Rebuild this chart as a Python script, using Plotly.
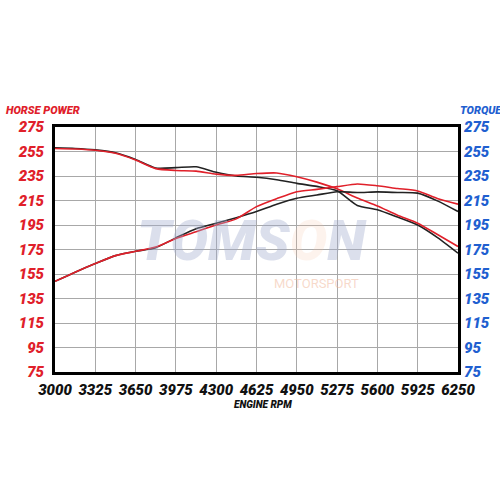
import plotly.graph_objects as go

rpm = [3000, 3162, 3325, 3488, 3650, 3812, 3975, 4138, 4300, 4462, 4625,
       4788, 4950, 5112, 5275, 5438, 5600, 5762, 5925, 6088, 6250]

torque_black = [258, 257.5, 256.3, 254, 248.5, 241.5, 241.8, 242.5, 238, 235, 234,
                232, 229, 226.5, 223, 211, 207.5, 201.5, 195, 184.5, 172]
torque_red = [257.5, 257, 256, 253.5, 248, 241, 239.5, 239, 236.5, 235.5, 237,
              237.5, 234.4, 230, 224.5, 217, 210.5, 203, 196.5, 187, 177.5]
hp_black = [149, 156.5, 163.5, 170, 173.5, 176.5, 184.5, 192, 196.5, 201, 206,
            212, 216.8, 219.5, 222.2, 221.5, 222, 221.5, 221, 214.5, 206]
hp_red = [149, 156.5, 163.5, 170, 173.5, 177, 184, 189.5, 195, 200, 210,
          216.5, 222.2, 224.1, 226.3, 228.5, 227, 224.8, 222.8, 216.5, 212]

x_ticks = [3000, 3325, 3650, 3975, 4300, 4625, 4950, 5275, 5600, 5925, 6250]
y_ticks = [75, 95, 115, 135, 155, 175, 195, 215, 235, 255, 275]

RED = "#e0202a"
BLACK = "#222222"
BLUE = "#1f5fd0"
FONT = "Roboto, Liberation Sans, sans-serif"

fig = go.Figure()
for y, c in [(torque_black, BLACK), (torque_red, RED), (hp_black, BLACK), (hp_red, RED)]:
    fig.add_trace(go.Scatter(x=rpm, y=y, mode="lines",
                             line=dict(color=c, width=1.6, shape="spline", smoothing=0.6),
                             showlegend=False, hoverinfo="skip"))
fig.add_trace(go.Scatter(x=[rpm[0]], y=[y_ticks[0]], yaxis="y2", mode="markers",
                         marker=dict(opacity=0), showlegend=False, hoverinfo="skip"))

tickfont = dict(family=FONT, size=15, weight=900, style="italic")

fig.update_layout(
    width=500, height=500,
    margin=dict(l=55, r=42, t=127, b=128),
    paper_bgcolor="white", plot_bgcolor="white",
    xaxis=dict(range=[3000, 6250], tickvals=x_ticks, ticktext=[str(v) for v in x_ticks],
               showgrid=True, gridcolor="#a8a8a8", gridwidth=1,
               showline=True, linecolor="black", linewidth=3, mirror=True,
               ticks="", tickangle=0, automargin=False,
               tickfont=dict(color="#111111", **tickfont), ticklabelstandoff=2,
               zeroline=False),
    yaxis=dict(range=[75, 275], tickvals=y_ticks, ticktext=[str(v) for v in y_ticks],
               showgrid=True, gridcolor="#a8a8a8", gridwidth=1,
               showline=True, linecolor="black", linewidth=3, mirror=True,
               ticks="", automargin=False,
               tickfont=dict(color=RED, **tickfont), ticklabelstandoff=5,
               zeroline=False),
    yaxis2=dict(range=[75, 275], tickvals=y_ticks, ticktext=[str(v) for v in y_ticks],
                overlaying="y", side="right", showgrid=False, showline=False,
                ticks="", automargin=False,
                tickfont=dict(color=BLUE, **tickfont), ticklabelstandoff=5,
                zeroline=False),
    annotations=[
        dict(text="HORSE POWER", xref="paper", yref="paper", x=-0.127, y=1.069,
             xanchor="left", yanchor="middle", showarrow=False,
             font=dict(family=FONT, size=11, color=RED, weight=900, style="italic")),
        dict(text="TORQUE", xref="paper", yref="paper", x=1.0, y=1.069,
             xanchor="left", yanchor="middle", showarrow=False,
             font=dict(family=FONT, size=11, color=BLUE, weight=900, style="italic")),
        dict(text="ENGINE RPM", xref="paper", yref="paper", x=0.516, y=-0.131,
             xanchor="center", yanchor="middle", showarrow=False,
             font=dict(family=FONT, size=10, color="#111111", weight=900, style="italic")),
        dict(text="TOMS<span style='color:rgba(245,190,160,0.5)'>O</span>N",
             xref="paper", yref="paper", x=0.489, y=0.535,
             xanchor="center", yanchor="middle", showarrow=False,
             font=dict(family=FONT, size=56, color="rgba(160,170,205,0.38)",
                       weight=900, style="italic")),
        dict(text="MOTORSPORT", xref="paper", yref="paper", x=0.648, y=0.362,
             xanchor="center", yanchor="middle", showarrow=False,
             font=dict(family=FONT, size=13, color="rgba(240,180,150,0.5)")),
    ],
)

fig.write_html("out.html", config={"displayModeBar": False},
               post_script="document.body.style.margin='0';")
